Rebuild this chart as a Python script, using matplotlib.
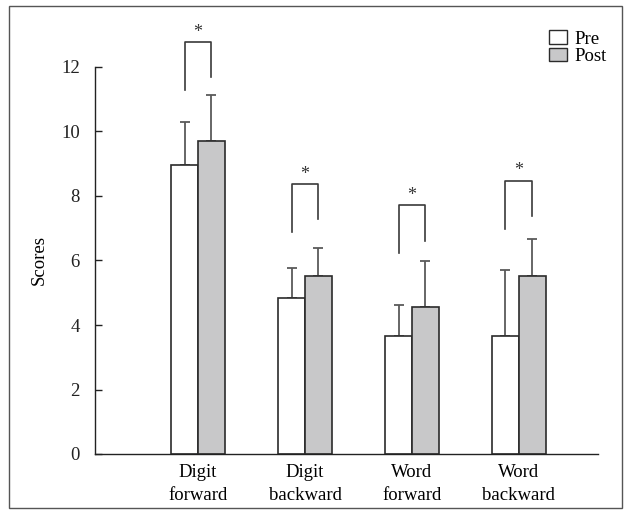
"""Pre/post memory span scores with significance brackets."""

import matplotlib.pyplot as plt
import numpy as np
from matplotlib.patches import Patch, Rectangle

plt.rcParams["font.family"] = ["Liberation Serif", "DejaVu Serif"]

# Data
categories = ["Digit\nforward", "Digit\nbackward", "Word\nforward", "Word\nbackward"]
pre_mean = [8.95, 4.85, 3.65, 3.65]
post_mean = [9.72, 5.52, 4.55, 5.52]
pre_sd = [1.35, 0.91, 0.98, 2.05]
post_sd = [1.41, 0.86, 1.43, 1.15]
# height of the "*" bracket above each pair
bracket_top = [12.77, 8.37, 7.71, 8.47]

EDGE = "#2b2b2b"
ERR = "#5a5a5a"
POST_GRAY = "#c8c8c9"

fig = plt.figure(figsize=(6.31, 5.14), dpi=100)
ax = fig.add_axes([95 / 631, 60 / 514, 503 / 631, 438.6 / 514])

x = np.arange(1, len(categories) + 1)
width = 0.25

ax.bar(x - width / 2, pre_mean, width, color="white", edgecolor=EDGE,
       linewidth=1.2, label="Pre", zorder=2)
ax.bar(x + width / 2, post_mean, width, color=POST_GRAY, edgecolor=EDGE,
       linewidth=1.2, label="Post", zorder=2)

# upper-only error bars
zeros = np.zeros(len(x))
ax.errorbar(x - width / 2, pre_mean, yerr=[zeros, pre_sd], fmt="none",
            ecolor=ERR, elinewidth=1.3, capsize=3.5, capthick=1.3, zorder=1)
ax.errorbar(x + width / 2, post_mean, yerr=[zeros, post_sd], fmt="none",
            ecolor=ERR, elinewidth=1.3, capsize=3.5, capthick=1.3, zorder=1)

# significance brackets
for xi, top in zip(x, bracket_top):
    xl, xr = xi - width / 2, xi + width / 2
    ax.plot([xl, xl, xr, xr], [top - 1.48, top, top, top - 1.09],
            color="#3a3a3a", linewidth=1.2, clip_on=False)
    ax.text(xi, top + 0.17, "*", ha="center", va="baseline", fontsize=13,
            color="#333333", clip_on=False)

ax.set_xlim(0.037, 4.74)
ax.set_ylim(0, 13.6)
ax.set_yticks(np.arange(0, 13, 2))
ax.set_xticks(x)
ax.set_xticklabels(categories, fontsize=13.5, linespacing=1.45)
ax.tick_params(axis="x", length=0, pad=7)
ax.tick_params(axis="y", direction="in", length=5, width=1, labelsize=13.5,
               pad=11, colors="#222222")
ax.set_ylabel("Scores", fontsize=13.5)
ax.yaxis.set_label_coords((48 - 95) / 503, (454 - 260) / 438.6)

for side in ("top", "right"):
    ax.spines[side].set_visible(False)
ax.spines["left"].set_bounds(0, 12)
for side in ("left", "bottom"):
    ax.spines[side].set_color("#222222")
    ax.spines[side].set_linewidth(1.0)

handles = [Patch(facecolor="white", edgecolor=EDGE, linewidth=1.0, label="Pre"),
           Patch(facecolor=POST_GRAY, edgecolor=EDGE, linewidth=1.0, label="Post")]
fig.legend(handles=handles, loc="upper left",
           bbox_to_anchor=(536 / 631, 1 - 17 / 514), frameon=False,
           fontsize=13.5, handlelength=0.96, handleheight=0.75,
           handletextpad=0.4, labelspacing=0.0, borderpad=0.2)

# outer frame
fig.patches.append(Rectangle((9 / 631, 6 / 514), 613 / 631, 502 / 514,
                             transform=fig.transFigure, fill=False,
                             edgecolor="#555555", linewidth=1.0))

fig.savefig("out.png", dpi=100)
